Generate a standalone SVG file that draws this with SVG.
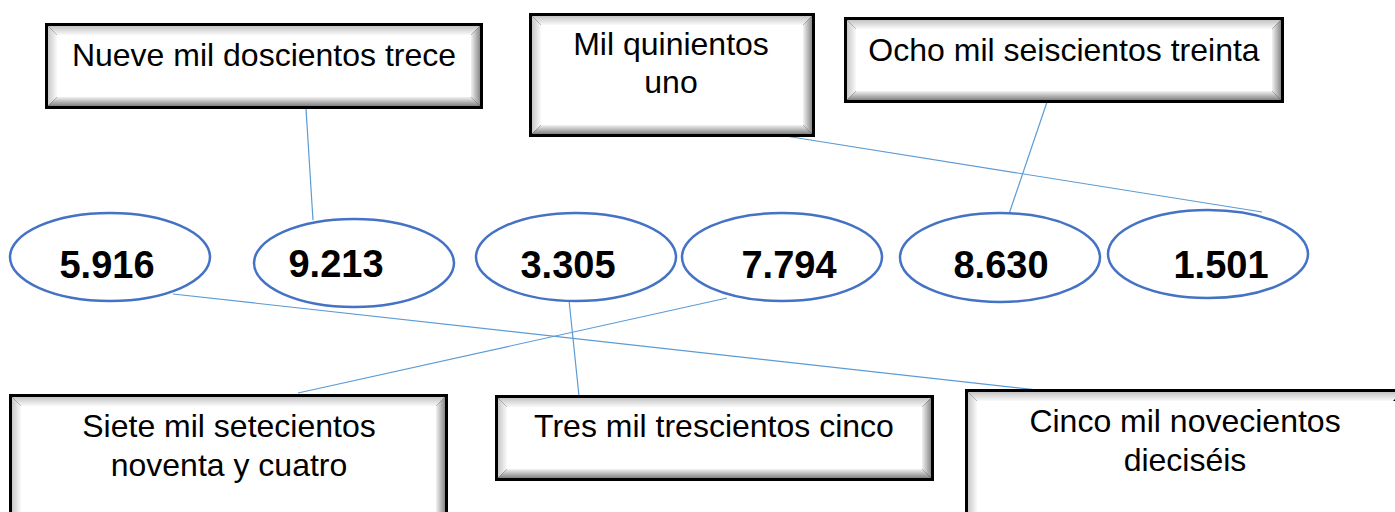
<svg xmlns="http://www.w3.org/2000/svg" width="1395" height="512" viewBox="0 0 1395 512">
<defs>
<linearGradient id="gT" x1="0" y1="0" x2="0" y2="1"><stop offset="0" stop-color="#c4c4c4"/><stop offset="1" stop-color="#fafafa"/></linearGradient>
<linearGradient id="gL" x1="0" y1="0" x2="1" y2="0"><stop offset="0" stop-color="#c8c8c8"/><stop offset="1" stop-color="#fafafa"/></linearGradient>
<linearGradient id="gR" x1="0" y1="0" x2="1" y2="0"><stop offset="0" stop-color="#f2f2f2"/><stop offset="1" stop-color="#8a8a8a"/></linearGradient>
<linearGradient id="gB" x1="0" y1="0" x2="0" y2="1"><stop offset="0" stop-color="#f2f2f2"/><stop offset="1" stop-color="#828282"/></linearGradient>
</defs>
<style>
.frame{fill:#000}
.face{fill:#fff}
.bt{fill:url(#gT)}
.bl{fill:url(#gL)}
.br{fill:url(#gR)}
.bb{fill:url(#gB)}
.oval{fill:#fff;stroke:#4472C4;stroke-width:2.5}
.conn{stroke:#5B9BD5;stroke-width:1.2;fill:none}
.lbl{font-family:"Liberation Sans",Arial,sans-serif;font-size:32px;fill:#000;text-anchor:middle}
.num{font-family:"Liberation Sans",Arial,sans-serif;font-size:38px;font-weight:bold;fill:#000;text-anchor:middle}
</style>
<rect width="1395" height="512" fill="#fff"/>
<g id="connectors">
<line class="conn" x1="306" y1="109" x2="313" y2="220"/>
<line class="conn" x1="748" y1="130" x2="1262" y2="212"/>
<line class="conn" x1="1047" y1="102" x2="1009" y2="214"/>
<line class="conn" x1="173" y1="294" x2="1065" y2="393"/>
<line class="conn" x1="727" y1="298" x2="298" y2="393"/>
<line class="conn" x1="569" y1="300" x2="579" y2="396"/>
</g>
<g id="box-nueve">
<rect class="frame" x="45" y="23" width="438" height="86"/>
<polygon class="bt" points="48,26 480,26 471,35 57,35"/>
<polygon class="bl" points="48,26 57,35 57,97 48,106"/>
<polygon class="br" points="480,26 480,106 471,97 471,35"/>
<polygon class="bb" points="48,106 480,106 471,97 57,97"/>
<rect class="face" x="57" y="35" width="414" height="62"/>
<text class="lbl" x="264" y="66">Nueve mil doscientos trece</text>
</g>
<g id="box-mil">
<rect class="frame" x="529" y="13" width="286" height="124"/>
<polygon class="bt" points="532,16 812,16 803,25 541,25"/>
<polygon class="bl" points="532,16 541,25 541,125 532,134"/>
<polygon class="br" points="812,16 812,134 803,125 803,25"/>
<polygon class="bb" points="532,134 812,134 803,125 541,125"/>
<rect class="face" x="541" y="25" width="262" height="100"/>
<text class="lbl" x="671" y="55">Mil quinientos</text>
<text class="lbl" x="671" y="93">uno</text>
</g>
<g id="box-ocho">
<rect class="frame" x="844" y="17" width="440" height="86"/>
<polygon class="bt" points="847,20 1281,20 1272,29 856,29"/>
<polygon class="bl" points="847,20 856,29 856,91 847,100"/>
<polygon class="br" points="1281,20 1281,100 1272,91 1272,29"/>
<polygon class="bb" points="847,100 1281,100 1272,91 856,91"/>
<rect class="face" x="856" y="29" width="416" height="62"/>
<text class="lbl" x="1064" y="61">Ocho mil seiscientos treinta</text>
</g>
<g id="box-siete">
<rect class="frame" x="9" y="394" width="439" height="130"/>
<polygon class="bt" points="12,397 445,397 436,406 21,406"/>
<polygon class="bl" points="12,397 21,406 21,512 12,521"/>
<polygon class="br" points="445,397 445,521 436,512 436,406"/>
<rect class="face" x="21" y="406" width="415" height="110"/>
<text class="lbl" x="229" y="437">Siete mil setecientos</text>
<text class="lbl" x="229" y="476">noventa y cuatro</text>
</g>
<g id="box-tres">
<rect class="frame" x="495" y="395" width="439" height="86"/>
<polygon class="bt" points="498,398 931,398 922,407 507,407"/>
<polygon class="bl" points="498,398 507,407 507,469 498,478"/>
<polygon class="br" points="931,398 931,478 922,469 922,407"/>
<polygon class="bb" points="498,478 931,478 922,469 507,469"/>
<rect class="face" x="507" y="407" width="415" height="62"/>
<text class="lbl" x="714" y="437">Tres mil trescientos cinco</text>
</g>
<g id="box-cinco">
<rect class="frame" x="965" y="389" width="440" height="135"/>
<polygon class="bt" points="968,392 1402,392 1393,401 977,401"/>
<polygon class="bl" points="968,392 977,401 977,512 968,521"/>
<rect class="face" x="977" y="401" width="420" height="115"/>
<text class="lbl" x="1185" y="432">Cinco mil novecientos</text>
<text class="lbl" x="1185" y="471">dieciséis</text>
</g>
<g id="n5916"><ellipse class="oval" cx="110" cy="257" rx="100" ry="44"/><text class="num" x="107" y="278">5.916</text></g>
<g id="n9213"><ellipse class="oval" cx="354" cy="263" rx="100" ry="44"/><text class="num" x="336" y="277">9.213</text></g>
<g id="n3305"><ellipse class="oval" cx="576" cy="257" rx="100" ry="44"/><text class="num" x="568" y="278">3.305</text></g>
<g id="n7794"><ellipse class="oval" cx="782" cy="257" rx="100" ry="44"/><text class="num" x="789" y="278">7.794</text></g>
<g id="n8630"><ellipse class="oval" cx="1000" cy="257.5" rx="100" ry="44.5"/><text class="num" x="1001" y="278">8.630</text></g>
<g id="n1501"><ellipse class="oval" cx="1208" cy="254" rx="100" ry="44"/><text class="num" x="1221" y="278">1.501</text></g>
</svg>
